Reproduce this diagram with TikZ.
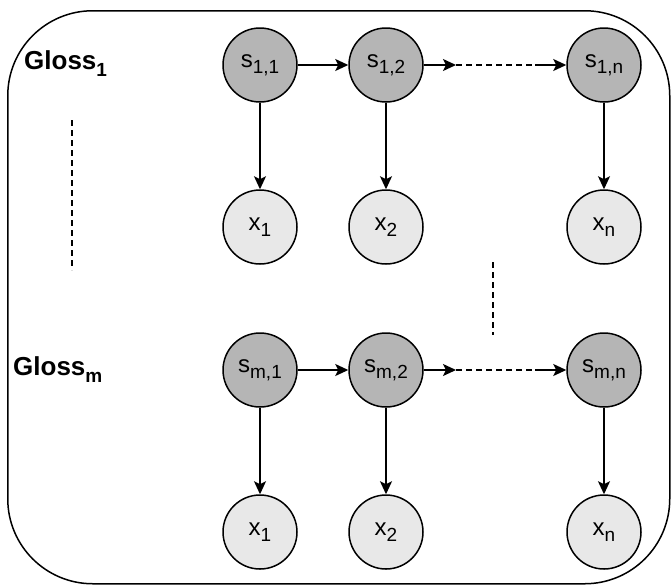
\documentclass[tikz,border=0pt]{standalone}
\usepackage{fontspec}
\setmainfont{Liberation Sans}
\usetikzlibrary{arrows.meta}
\newcommand{\lbl}[2]{{\fontsize{24}{28}\selectfont #1\raisebox{-6pt}{\fontsize{19}{22}\selectfont #2}}}
\newcommand{\glabel}[2]{{\fontsize{26}{30}\selectfont\bfseries #1\raisebox{-7pt}{\fontsize{19}{22}\selectfont #2}}}
\definecolor{sfill}{HTML}{B5B5B5}
\definecolor{xfill}{HTML}{E8E8E8}
\tikzset{
  snode/.style={circle, draw=black, line width=1.5pt, fill=sfill, minimum size=74pt, inner sep=0pt},
  xnode/.style={circle, draw=black, line width=1.5pt, fill=xfill, minimum size=74pt, inner sep=0pt},
  arr/.style={-{Stealth[length=13pt,width=12pt,inset=3pt]}, line width=1.5pt},
  dline/.style={dashed, dash pattern=on 6pt off 4pt, line width=1.2pt},
}
\begin{document}
\begin{tikzpicture}[x=1pt,y=-1pt]
\useasboundingbox (0,0) rectangle (671,584);
\node[draw=black, line width=1.5pt, rounded corners=85pt, minimum width=662pt, minimum height=573pt, anchor=north west] (frame) at (7,10) {};
% labels
\node[anchor=base west, inner sep=0pt] (g1) at (24,69) {\glabel{Gloss}{1}};
\node[anchor=base west, inner sep=0pt] (gm) at (13,375) {\glabel{Gloss}{m}};
% top block
\node[snode] (s11) at (260,65) {\lbl{s}{1,1}};
\node[snode] (s12) at (386,65) {\lbl{s}{1,2}};
\node[snode] (s1n) at (604,65) {\lbl{s}{1,n}};
\node[xnode] (x11) at (260,227) {\lbl{x}{1}};
\node[xnode] (x12) at (386,227) {\lbl{x}{2}};
\node[xnode] (x1n) at (604,227) {\lbl{x}{n}};
% bottom block
\node[snode] (sm1) at (260,370) {\lbl{s}{m,1}};
\node[snode] (sm2) at (386,370) {\lbl{s}{m,2}};
\node[snode] (smn) at (604,370) {\lbl{s}{m,n}};
\node[xnode] (xm1) at (260,532) {\lbl{x}{1}};
\node[xnode] (xm2) at (386,532) {\lbl{x}{2}};
\node[xnode] (xmn) at (604,532) {\lbl{x}{n}};
% chain coordinates
\coordinate (a1) at (456,65);
\coordinate (b1) at (535,65);
\coordinate (a2) at (456,370);
\coordinate (b2) at (535,370);
% dashed separators
\coordinate (v1t) at (72,120);
\coordinate (v1b) at (72,270);
\coordinate (v2t) at (493,262);
\coordinate (v2b) at (493,335);
\draw[dline] (v1t) -- (v1b);
\draw[dline] (v2t) -- (v2b);
% edges top
\draw[arr] (s11) -- (s12);
\draw[arr] (s12) -- (a1);
\draw[dline] (a1) -- (b1);
\draw[arr] (b1) -- (s1n);
\draw[arr] (s11) -- (x11);
\draw[arr] (s12) -- (x12);
\draw[arr] (s1n) -- (x1n);
% edges bottom
\draw[arr] (sm1) -- (sm2);
\draw[arr] (sm2) -- (a2);
\draw[dline] (a2) -- (b2);
\draw[arr] (b2) -- (smn);
\draw[arr] (sm1) -- (xm1);
\draw[arr] (sm2) -- (xm2);
\draw[arr] (smn) -- (xmn);
\end{tikzpicture}
\end{document}
